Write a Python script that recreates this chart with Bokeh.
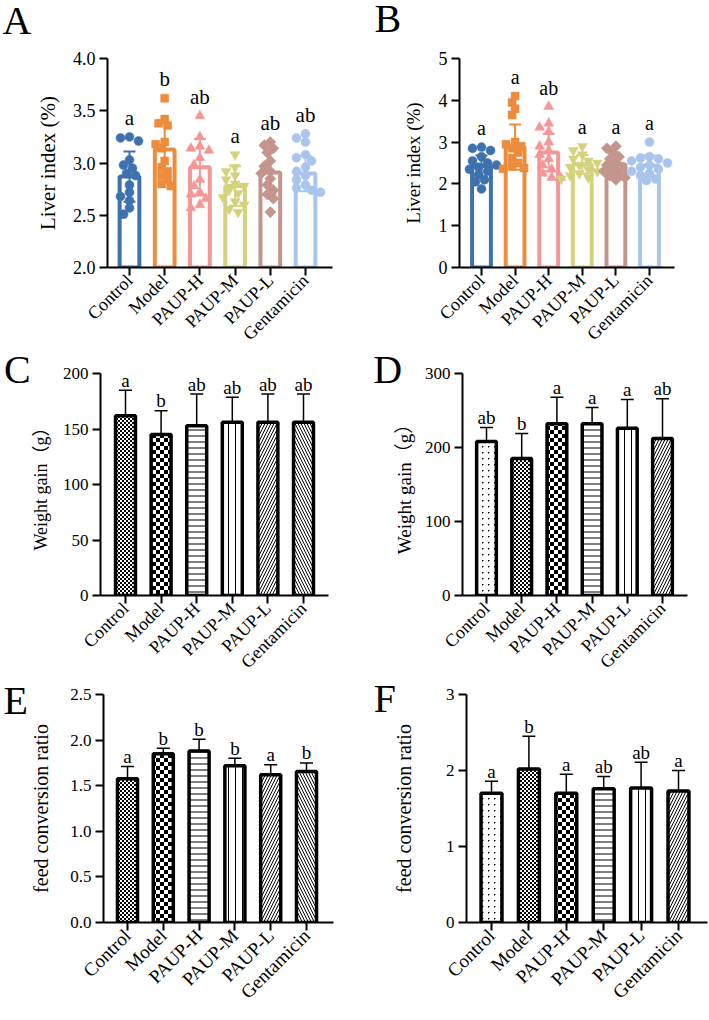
import math, zlib, struct, base64
from bokeh.plotting import figure
from bokeh.models import (Range1d, FixedTicker, PrintfTickFormatter, Whisker, TeeHead,
                          ColumnDataSource, Label, ImageURLTexture)
from bokeh.layouts import column, row
from bokeh.embed import file_html
from bokeh.resources import INLINE
from bokeh.core.properties import value

# ---------------- data ----------------
groups = ["Control", "Model", "PAUP-H", "PAUP-M", "PAUP-L", "Gentamicin"]

# A: liver index (%) individual values, means, SD
a_control = [3.25, 3.24, 3.21, 3.03, 2.98, 2.95, 2.90, 2.88, 2.79, 2.72, 2.68, 2.64, 2.57, 2.51]
a_model = [3.62, 3.42, 3.38, 3.36, 3.20, 3.18, 3.14, 3.02, 2.96, 2.92, 2.88, 2.84, 2.80, 2.78]
a_pauph = [3.45, 3.25, 3.16, 3.14, 3.12, 3.05, 2.98, 2.84, 2.78, 2.72, 2.70, 2.66, 2.60, 2.57]
a_paupm = [3.08, 2.96, 2.92, 2.88, 2.84, 2.80, 2.78, 2.74, 2.71, 2.67, 2.63, 2.60, 2.56, 2.53]
a_paupl = [3.20, 3.17, 3.14, 3.10, 3.02, 2.97, 2.92, 2.90, 2.85, 2.79, 2.74, 2.70, 2.66, 2.53]
a_gent = [3.28, 3.24, 3.20, 3.08, 3.05, 3.02, 2.96, 2.92, 2.88, 2.84, 2.79, 2.76, 2.74, 2.72]
a_means = [2.87, 3.13, 2.96, 2.78, 2.91, 2.90]
a_sd = [0.24, 0.25, 0.27, 0.19, 0.21, 0.17]
a_letters = ["a", "b", "ab", "a", "ab", "ab"]

# B: liver index (%)
b_control = [2.88, 2.85, 2.80, 2.65, 2.55, 2.50, 2.45, 2.40, 2.35, 2.30, 2.22, 2.10, 2.05, 1.88]
b_model = [4.10, 3.95, 3.80, 3.65, 3.00, 2.95, 2.90, 2.85, 2.75, 2.62, 2.50, 2.42, 2.38, 2.36]
b_pauph = [3.85, 3.45, 3.35, 3.25, 3.00, 2.90, 2.80, 2.70, 2.60, 2.45, 2.35, 2.25, 2.15, 2.15]
b_paupm = [2.90, 2.80, 2.70, 2.60, 2.55, 2.50, 2.45, 2.40, 2.35, 2.30, 2.25, 2.20, 2.15, 2.12]
b_paupl = [2.90, 2.85, 2.75, 2.65, 2.60, 2.50, 2.45, 2.40, 2.35, 2.30, 2.25, 2.20, 2.15, 2.10]
b_gent = [3.00, 2.65, 2.62, 2.60, 2.55, 2.50, 2.45, 2.40, 2.35, 2.30, 2.25, 2.20, 2.12, 2.08]
b_means = [2.43, 2.88, 2.75, 2.47, 2.47, 2.44]
b_sd = [0.25, 0.54, 0.45, 0.22, 0.23, 0.24]
b_letters = ["a", "a", "ab", "a", "a", "a"]

# C: weight gain (g)
c_means = [162, 145, 153, 156, 156, 156]
c_sd = [23, 21.5, 28.5, 22.5, 25.5, 25.5]
c_letters = ["a", "b", "ab", "ab", "ab", "ab"]

# D: weight gain (g)
d_means = [208, 185, 232, 232, 226, 212]
d_sd = [19, 34, 36, 22, 39, 54]
d_letters = ["ab", "b", "a", "a", "a", "ab"]

# E: feed conversion ratio
e_means = [1.575, 1.85, 1.88, 1.72, 1.62, 1.655]
e_sd = [0.135, 0.06, 0.13, 0.08, 0.11, 0.095]
e_letters = ["a", "b", "b", "b", "a", "b"]

# F: feed conversion ratio
f_means = [1.70, 2.02, 1.70, 1.76, 1.77, 1.73]
f_sd = [0.16, 0.43, 0.25, 0.16, 0.34, 0.27]
f_letters = ["a", "b", "a", "ab", "ab", "a"]

# ---------------- styles ----------------
group_colors = ["#3D72AE", "#EC8C3C", "#F59697", "#D5D27C", "#C4958D", "#A9C5EC"]
group_markers = ["circle", "square", "triangle", "inverted_triangle", "square", "circle"]
marker_angles = [0, 0, 0, 0, math.pi / 4, 0]
marker_sizes = [9, 8, 10, 10, 8, 9]

pat_CE = ["fine_checker", "coarse_checker", "horizontal_line", "vertical_line",
          "right_diagonal_line", "left_diagonal_line"]
scale_CE = [4, 8, 6, 7, 6, 6]
pat_DF = ["fine_dot", "fine_checker", "coarse_checker", "horizontal_line", "vertical_line",
          "right_diagonal_line"]
scale_DF = [6, 4, 8, 6, 7, 6]

SERIF = "Liberation Serif"
LABEL_FONT = "'Liberation Serif', 'Noto Sans CJK SC'"
LETTER_PX = 40
LETTER_ADV = {"A": 0.722, "B": 0.667, "C": 0.667, "D": 0.722, "E": 0.611, "F": 0.556}


def png_url(w, h, pix):
    raw = b"".join(b"\x00" + b"".join(bytes(pix(x, y)) for x in range(w)) for y in range(h))

    def chunk(t, d):
        c = struct.pack(">I", len(d)) + t + d
        return c + struct.pack(">I", zlib.crc32(t + d) & 0xffffffff)

    png = (b"\x89PNG\r\n\x1a\n"
           + chunk(b"IHDR", struct.pack(">IIBBBBB", w, h, 8, 6, 0, 0, 0))
           + chunk(b"IDAT", zlib.compress(raw))
           + chunk(b"IEND", b""))
    return "data:image/png;base64," + base64.b64encode(png).decode()


BLACK = (0, 0, 0, 255)
CLEAR = (255, 255, 255, 0)


def checker_pix(cell):
    return lambda x, y: BLACK if ((x // cell) + (y // cell)) % 2 == 0 else CLEAR


def dot_pix(x, y):
    if (x, y) == (2, 2):
        return BLACK
    if (x, y) in ((3, 2), (2, 3)):
        return (0, 0, 0, 120)
    return CLEAR


TEXTURES = {
    "fine_checker": ImageURLTexture(url=png_url(4, 4, checker_pix(2))),
    "coarse_checker": ImageURLTexture(url=png_url(8, 8, checker_pix(4))),
    "fine_dot": ImageURLTexture(url=png_url(6, 6, dot_pix)),
}


def make_fig(w, h, frame, tick_px, y_lo, y_hi, yticks, yfmt, ylabel, ylabel_size,
             ylabel_standoff, ytick_size, xtick_size, letter, letter_pos, ytick_w):
    fl, fr, ft, fb = frame
    t0, t5 = tick_px
    s = (t5 - t0) / 5.0
    x_lo = -(t0 - fl) / s
    x_hi = 5 + (fr - t5) / s
    p = figure(width=w, height=h, x_range=Range1d(x_lo, x_hi), y_range=Range1d(y_lo, y_hi),
               output_backend="svg", toolbar_location=None, tools="",
               min_border_left=fl, min_border_right=w - fr,
               min_border_top=ft, min_border_bottom=h - fb)
    p.outline_line_color = None
    p.xgrid.visible = False
    p.ygrid.visible = False
    for ax in (p.xaxis[0], p.yaxis[0]):
        ax.axis_line_width = 2
        ax.axis_line_color = "black"
        ax.major_tick_line_width = 2
        ax.major_tick_line_color = "black"
        ax.major_tick_in = 0
        ax.major_tick_out = 8
        ax.minor_tick_line_color = None
        ax.major_label_text_font = SERIF
        ax.major_label_text_color = "black"
    xa = p.xaxis[0]
    xa.ticker = FixedTicker(ticks=list(range(len(groups))))
    xa.major_label_overrides = {i: g for i, g in enumerate(groups)}
    xa.major_label_orientation = math.pi / 4
    xa.major_label_text_font_size = xtick_size
    xa.major_label_standoff = 2
    ya = p.yaxis[0]
    ya.ticker = FixedTicker(ticks=yticks)
    ya.formatter = PrintfTickFormatter(format=yfmt)
    ya.major_label_text_font_size = ytick_size
    ya.major_label_standoff = 4
    ya.axis_label = ylabel
    ya.axis_label_text_font = LABEL_FONT
    ya.axis_label_text_font_style = "normal"
    ya.axis_label_text_font_size = ylabel_size
    ya.axis_label_text_color = "black"
    ya.axis_label_standoff = ylabel_standoff
    # panel letter lives in a side panel to the left of the y axis
    lx, lb = letter_pos
    axis_w = 8 + 4 + ytick_w + ylabel_standoff + 1.15 * float(ylabel_size[:-2]) + 6.5
    panel_left = fl - axis_w - LETTER_ADV[letter] * LETTER_PX
    p.add_layout(Label(x=lx - panel_left, y=fb - lb, x_units="screen", y_units="screen",
                       text=letter, text_font=SERIF, text_font_size=f"{LETTER_PX}px",
                       text_baseline="alphabetic", text_align="left", text_color="black"),
                 "left")
    return p


def swarm_offsets(vals, unit_px, x_px, size_px, step_px=3.0):
    order = sorted(range(len(vals)), key=lambda i: -vals[i])
    placed = []
    offs = [0.0] * len(vals)
    cands = [0]
    for k in range(1, 10):
        cands += [-k, k]
    for i in order:
        yv = vals[i] * unit_px
        xo = 0.0
        for c in cands:
            xo = c * step_px
            if all((xo - px) ** 2 + (yv - py) ** 2 >= (size_px * 0.85) ** 2 for px, py in placed):
                break
        placed.append((xo, yv))
        offs[i] = xo / x_px
    return offs


def scatter_panel(p, pts, means, sds, letters, y_base, unit_px, x_px, font_size, letter_dy):
    idx = list(range(len(groups)))
    src = ColumnDataSource(dict(x=idx, top=means, color=group_colors))
    p.vbar(x="x", top="top", bottom=y_base, width=0.56, source=src,
           fill_color="white", line_color="color", line_width=4)
    for i, vals in enumerate(pts):
        offs = swarm_offsets(vals, unit_px, x_px, marker_sizes[i])
        p.scatter(x=[i + o for o in offs], y=vals, marker=group_markers[i],
                  size=marker_sizes[i], angle=marker_angles[i],
                  fill_color=group_colors[i], line_color=group_colors[i], line_width=0.5)
    for i in idx:
        c = group_colors[i]
        wsrc = ColumnDataSource(dict(x=[i], lo=[means[i] - sds[i]], hi=[means[i] + sds[i]]))
        p.add_layout(Whisker(source=wsrc, base="x", lower="lo", upper="hi",
                             line_color=c, line_width=2, level="overlay",
                             upper_head=TeeHead(size=12, line_color=c, line_width=2),
                             lower_head=TeeHead(size=12, line_color=c, line_width=2)))
    tops = [max(v) for v in pts]
    tsrc = ColumnDataSource(dict(x=idx, y=tops, t=letters))
    p.text(x="x", y="y", text="t", source=tsrc, text_align="center",
           text_baseline="alphabetic", y_offset=letter_dy, text_font=value(SERIF),
           text_font_size=font_size, text_color="black")


def hatch_panel(p, means, sds, letters, pats, scales, font_size):
    idx = list(range(len(groups)))
    src = ColumnDataSource(dict(x=idx, top=means, pat=pats, sc=scales))
    wsrc = ColumnDataSource(dict(x=idx, lo=means, hi=[m + s for m, s in zip(means, sds)]))
    p.add_layout(Whisker(source=wsrc, base="x", lower="lo", upper="hi",
                         line_color="black", line_width=1.5,
                         upper_head=TeeHead(size=13, line_color="black", line_width=1.5),
                         lower_head=None))
    p.vbar(x="x", top="top", bottom=0, width=0.56, source=src,
           fill_color="white", line_color="black", line_width=3.5,
           hatch_pattern="pat", hatch_scale="sc", hatch_color="black", hatch_weight=1,
           hatch_extra=TEXTURES)
    tsrc = ColumnDataSource(dict(x=idx, y=[m + s for m, s in zip(means, sds)], t=letters))
    p.text(x="x", y="y", text="t", source=tsrc, text_align="center",
           text_baseline="alphabetic", y_offset=-10, text_font=value(SERIF),
           text_font_size=font_size, text_color="black")


# ---------------- panels ----------------
pA = make_fig(354, 354, (107, 332, 48, 269), (129, 305), 2.0, 4.0, [2.0, 2.5, 3.0, 3.5, 4.0],
              "%.1f", "Liver index (%)", "21px", 10, "18px", "18px", "A", (2, 21.5), 22.5)
scatter_panel(pA, [a_control, a_model, a_pauph, a_paupm, a_paupl, a_gent], a_means, a_sd,
              a_letters, 2.0, 110.5, 35.2, "21px", -19)

pB = make_fig(355, 354, (105, 320, 58, 271), (127, 295), 0, 5, [0, 1, 2, 3, 4, 5],
              "%d", "Liver index (%)", "19px", 12, "18px", "18px", "B", (19, 21.5), 9)
scatter_panel(pB, [b_control, b_model, b_pauph, b_paupm, b_paupl, b_gent], b_means, b_sd,
              b_letters, 0, 43.0, 33.6, "20px", -19)

pC = make_fig(354, 328, (100, 328, 19, 244), (125, 303), 0, 200, [0, 50, 100, 150, 200],
              "%d", "Weight gain（g）", "18px", 9, "17px", "18px", "C", (3, 17.5), 25.5)
hatch_panel(pC, c_means, c_sd, c_letters, pat_CE, scale_CE, "19px")

pD = make_fig(355, 328, (108, 333, 19, 244), (132, 308), 0, 300, [0, 100, 200, 300],
              "%d", "Weight gain（g）", "19px", 7, "17px", "18px", "D", (18, 17.5), 25.5)
hatch_panel(pD, d_means, d_sd, d_letters, pat_DF, scale_DF, "19px")

pE = make_fig(354, 338, (103, 333, 12, 240), (127, 306), 0, 2.5, [0, 0.5, 1.0, 1.5, 2.0, 2.5],
              "%.1f", "feed conversion ratio", "20px", 15, "17px", "19px", "E", (1, 17.5), 21)
hatch_panel(pE, e_means, e_sd, e_letters, pat_CE, scale_CE, "19px")

pF = make_fig(355, 338, (112, 353, 7, 242), (137, 324), 0, 3, [0, 1, 2, 3],
              "%d", "feed conversion ratio", "20px", 28, "17px", "19px", "F", (18, 17.5), 8.5)
hatch_panel(pF, f_means, f_sd, f_letters, pat_DF, scale_DF, "19px")

layout = column(row(pA, pB), row(pC, pD), row(pE, pF))
open("out.html", "w").write(file_html(layout, INLINE))
